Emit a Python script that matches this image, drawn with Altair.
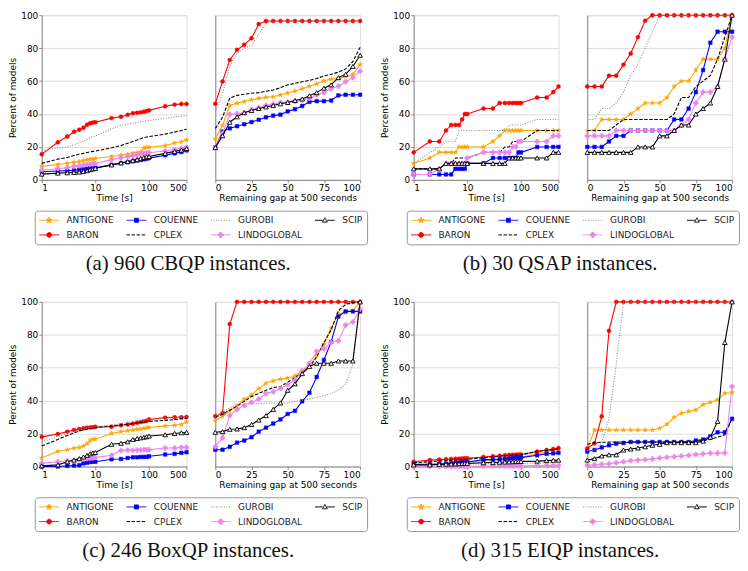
import altair as alt
import pandas as pd

# ---------------- data ----------------
TIME_S = [1, 2, 3, 4, 5, 6, 7, 8, 9, 10, 20, 30, 40, 50, 60, 70, 80, 90, 100, 200, 300, 400, 500]
GAP_PCT = [0, 5, 10, 15, 20, 25, 30, 35, 40, 45, 50, 55, 60, 65, 70, 75, 80, 85, 90, 95, 100]

SOLVERS = ["ANTIGONE", "BARON", "COUENNE", "CPLEX", "GUROBI", "LINDOGLOBAL", "SCIP"]

CAPTIONS = ["(a) 960 CBQP instances.", "(b) 30 QSAP instances.",
            "(c) 246 BoxQP instances.", "(d) 315 EIQP instances."]

CBQP_TIME = {
    "ANTIGONE": [8.2, 9.3, 10.1, 10.7, 11.1, 11.7, 12.3, 12.5, 12.6, 13.0, 14.2, 15.0, 15.6, 16.1, 16.5, 17.0, 19.3, 19.8, 19.8, 20.8, 22.4, 23.1, 24.3],
    "BARON": [15.6, 22.8, 26.3, 29.2, 30.5, 31.7, 33.5, 34.4, 34.8, 35.0, 37.5, 38.3, 39.5, 40.5, 40.7, 41.0, 41.4, 41.8, 42.2, 44.7, 45.7, 46.1, 46.1],
    "COUENNE": [4.9, 5.4, 5.6, 5.8, 6.2, 6.6, 6.8, 7.0, 7.2, 7.4, 9.1, 10.1, 10.7, 11.3, 11.7, 12.1, 12.5, 12.8, 13.2, 15.0, 16.1, 16.9, 17.9],
    "CPLEX": [10.0, 12.6, 13.6, 14.8, 15.6, 16.1, 16.6, 17.0, 17.3, 17.5, 19.5, 20.8, 22.2, 23.3, 24.2, 25.0, 25.7, 26.0, 26.3, 27.8, 29.0, 30.0, 30.7],
    "GUROBI": [18.0, 19.3, 20.0, 21.3, 22.4, 23.6, 24.7, 25.5, 26.2, 26.7, 31.0, 33.0, 33.8, 34.4, 34.8, 35.2, 35.6, 35.8, 36.0, 37.4, 38.2, 38.6, 39.0],
    "LINDOGLOBAL": [5.8, 6.8, 7.4, 8.2, 8.6, 9.0, 9.3, 9.5, 9.7, 9.9, 12.3, 13.4, 14.2, 14.6, 15.2, 15.8, 16.1, 16.3, 16.5, 17.5, 18.5, 19.0, 19.8],
    "SCIP": [3.5, 4.1, 4.3, 4.5, 4.7, 5.1, 5.6, 6.2, 6.6, 7.0, 9.1, 10.3, 11.1, 11.7, 12.3, 13.0, 13.6, 14.0, 14.2, 16.1, 17.3, 18.1, 19.0],
}
CBQP_GAP = {
    "ANTIGONE": [24.9, 33.0, 45.2, 46.6, 47.6, 48.7, 49.5, 50.1, 50.5, 51.5, 52.8, 54.0, 55.3, 56.9, 58.3, 60.2, 61.2, 61.6, 62.7, 64.1, 70.0],
    "BARON": [46.2, 59.8, 72.8, 79.0, 82.0, 86.0, 94.6, 96.5, 96.5, 96.5, 96.5, 96.5, 96.5, 96.5, 96.5, 96.5, 96.5, 96.5, 96.5, 96.5, 96.5],
    "COUENNE": [19.6, 29.3, 31.3, 32.6, 33.8, 35.1, 36.5, 38.0, 39.0, 39.6, 41.6, 42.9, 44.9, 47.4, 47.8, 47.8, 48.2, 51.3, 51.7, 51.7, 51.7],
    "CPLEX": [31.3, 38.0, 49.7, 51.3, 52.0, 52.6, 53.0, 53.8, 54.6, 56.0, 57.7, 58.6, 59.6, 60.4, 61.6, 63.1, 64.1, 65.4, 67.4, 71.8, 80.6],
    "GUROBI": [41.0, 52.4, 69.0, 76.9, 79.8, 81.7, 88.5, 95.3, 96.0, 96.5, 96.5, 96.5, 96.5, 96.5, 96.5, 96.5, 96.5, 96.5, 96.5, 96.5, 96.5],
    "LINDOGLOBAL": [19.6, 28.3, 39.8, 40.2, 40.8, 42.7, 43.7, 45.2, 46.0, 47.0, 47.2, 47.6, 48.5, 49.5, 51.5, 53.0, 55.3, 56.9, 59.6, 62.1, 66.0],
    "SCIP": [19.6, 26.8, 35.0, 38.3, 40.8, 42.1, 43.3, 44.3, 45.2, 46.2, 47.0, 48.2, 49.1, 51.1, 53.0, 55.7, 57.7, 62.1, 64.1, 68.9, 75.7],
}

QSAP_TIME = {
    "ANTIGONE": [10.0, 13.3, 16.7, 16.7, 16.7, 16.7, 20.0, 20.0, 20.0, 20.0, 20.0, 23.3, 26.7, 30.0, 30.0, 30.0, 30.0, 30.0, 30.0, 30.0, 30.0, 30.0, 30.0],
    "BARON": [16.7, 23.3, 23.3, 30.0, 33.3, 33.3, 33.3, 36.7, 40.0, 40.0, 43.3, 43.3, 46.7, 46.7, 46.7, 46.7, 46.7, 46.7, 46.7, 50.0, 50.0, 53.3, 56.7],
    "COUENNE": [3.3, 3.3, 3.3, 3.3, 3.3, 6.7, 6.7, 6.7, 6.7, 10.0, 10.0, 13.3, 13.3, 13.3, 13.3, 13.3, 13.3, 16.7, 16.7, 20.0, 20.0, 20.0, 20.0],
    "CPLEX": [6.7, 6.7, 6.7, 10.0, 10.0, 13.3, 13.3, 13.3, 13.3, 13.3, 16.7, 16.7, 16.7, 20.0, 20.0, 23.3, 23.3, 23.3, 23.3, 30.0, 30.0, 30.0, 30.0],
    "GUROBI": [10.0, 16.7, 20.0, 23.3, 23.3, 23.3, 30.0, 30.0, 30.0, 30.0, 30.0, 30.0, 30.0, 30.0, 33.3, 33.3, 33.3, 33.3, 33.3, 36.7, 36.7, 36.7, 36.7],
    "LINDOGLOBAL": [3.3, 3.3, 6.7, 10.0, 10.0, 10.0, 10.0, 10.0, 10.0, 13.3, 16.7, 16.7, 16.7, 16.7, 16.7, 20.0, 20.0, 23.3, 23.3, 23.3, 23.3, 26.7, 26.7],
    "SCIP": [6.7, 6.7, 6.7, 10.0, 10.0, 10.0, 10.0, 10.0, 10.0, 10.0, 10.0, 10.0, 10.0, 10.0, 13.3, 13.3, 13.3, 13.3, 13.3, 13.3, 13.3, 16.7, 16.7],
}
QSAP_GAP = {
    "ANTIGONE": [30.0, 30.0, 36.7, 36.7, 36.7, 36.7, 40.0, 43.3, 46.7, 46.7, 46.7, 50.0, 56.7, 60.0, 60.0, 66.7, 73.3, 73.3, 73.3, 80.0, 100.0],
    "BARON": [56.7, 56.7, 56.7, 63.3, 63.3, 70.0, 76.7, 86.7, 96.7, 100.0, 100.0, 100.0, 100.0, 100.0, 100.0, 100.0, 100.0, 100.0, 100.0, 100.0, 100.0],
    "COUENNE": [20.0, 20.0, 20.0, 23.3, 26.7, 26.7, 30.0, 30.0, 30.0, 30.0, 30.0, 30.0, 36.7, 36.7, 43.3, 53.3, 66.7, 83.3, 90.0, 90.0, 90.0],
    "CPLEX": [30.0, 30.0, 30.0, 30.0, 33.3, 36.7, 36.7, 36.7, 36.7, 36.7, 36.7, 36.7, 40.0, 50.0, 50.0, 56.7, 60.0, 63.3, 73.3, 86.7, 100.0],
    "GUROBI": [36.7, 36.7, 43.3, 43.3, 46.7, 53.3, 63.3, 70.0, 80.0, 90.0, 100.0, 100.0, 100.0, 100.0, 100.0, 100.0, 100.0, 100.0, 100.0, 100.0, 100.0],
    "LINDOGLOBAL": [26.7, 26.7, 26.7, 26.7, 30.0, 30.0, 30.0, 30.0, 30.0, 30.0, 30.0, 30.0, 30.0, 33.3, 36.7, 46.7, 53.3, 53.3, 56.7, 73.3, 86.7],
    "SCIP": [16.7, 16.7, 16.7, 16.7, 16.7, 16.7, 16.7, 20.0, 20.0, 20.0, 26.7, 26.7, 30.0, 33.3, 33.3, 40.0, 43.3, 46.7, 56.7, 73.3, 100.0],
}

BOXQP_TIME = {
    "ANTIGONE": [5.2, 9.3, 10.2, 11.2, 11.6, 12.5, 13.9, 15.8, 16.6, 16.6, 20.1, 21.2, 21.8, 22.2, 22.6, 22.8, 23.2, 23.4, 23.7, 24.7, 25.1, 25.5, 27.0],
    "BARON": [18.0, 19.7, 21.2, 22.2, 22.8, 23.2, 23.6, 23.7, 23.9, 24.1, 24.2, 25.1, 25.5, 26.0, 26.6, 27.0, 27.4, 27.8, 28.6, 29.7, 29.9, 29.9, 30.1],
    "COUENNE": [0.0, 0.0, 0.4, 0.6, 0.8, 1.9, 2.3, 2.7, 2.9, 2.9, 4.4, 4.6, 5.2, 5.6, 5.6, 5.8, 5.8, 5.8, 6.2, 7.3, 7.7, 8.3, 8.7],
    "CPLEX": [12.5, 16.4, 18.9, 20.4, 21.6, 22.2, 22.7, 23.1, 23.4, 23.6, 24.7, 25.3, 25.7, 26.0, 26.4, 26.7, 27.0, 27.2, 27.4, 28.0, 28.5, 29.0, 29.3],
    "GUROBI": [15.0, 18.3, 20.3, 21.4, 22.2, 22.8, 23.3, 23.7, 23.9, 24.1, 25.1, 26.0, 26.8, 27.4, 27.8, 28.1, 28.4, 28.5, 28.6, 29.3, 29.8, 30.2, 30.5],
    "LINDOGLOBAL": [1.9, 2.9, 3.5, 3.9, 4.2, 4.6, 4.8, 5.0, 5.2, 5.4, 6.8, 9.7, 9.9, 9.9, 10.0, 10.0, 10.2, 10.2, 10.2, 11.2, 11.2, 11.6, 11.6],
    "SCIP": [0.4, 1.0, 2.9, 3.9, 4.8, 5.8, 6.8, 7.7, 8.3, 8.5, 13.5, 14.1, 15.0, 16.4, 17.0, 17.4, 17.8, 18.1, 18.5, 19.3, 20.1, 20.5, 20.7],
}
BOXQP_GAP = {
    "ANTIGONE": [28.0, 30.5, 33.8, 37.0, 40.9, 43.4, 47.3, 50.6, 52.1, 53.1, 53.7, 55.0, 58.3, 60.8, 67.6, 74.3, 84.0, 92.7, 93.6, 94.6, 100.0],
    "BARON": [30.5, 32.4, 86.5, 100.0, 100.0, 100.0, 100.0, 100.0, 100.0, 100.0, 100.0, 100.0, 100.0, 100.0, 100.0, 100.0, 100.0, 100.0, 100.0, 100.0, 100.0],
    "COUENNE": [10.2, 10.2, 12.0, 14.5, 15.8, 17.8, 21.2, 23.6, 26.1, 28.6, 31.9, 33.8, 39.6, 44.8, 54.4, 64.7, 75.7, 91.1, 94.2, 94.2, 94.2],
    "CPLEX": [29.9, 31.9, 34.2, 36.7, 39.6, 42.5, 44.4, 46.3, 47.9, 48.6, 51.2, 54.0, 57.0, 60.2, 66.6, 75.3, 83.0, 94.6, 98.5, 99.4, 100.0],
    "GUROBI": [29.9, 32.8, 35.7, 37.0, 37.8, 38.2, 38.2, 38.6, 38.6, 38.6, 38.6, 39.6, 40.2, 40.9, 42.1, 42.9, 44.4, 46.3, 50.2, 61.8, 100.0],
    "LINDOGLOBAL": [12.0, 17.4, 30.9, 34.7, 37.0, 39.0, 40.9, 44.4, 45.4, 47.3, 49.8, 52.5, 57.9, 62.7, 69.9, 71.4, 75.3, 76.3, 85.9, 87.8, 95.6],
    "SCIP": [20.8, 21.2, 22.6, 22.8, 23.6, 25.5, 28.2, 30.9, 34.7, 38.6, 46.3, 50.2, 56.4, 60.8, 62.7, 62.7, 62.7, 64.1, 64.1, 64.1, 100.0],
}

EIQP_TIME = {
    "ANTIGONE": [1.0, 1.4, 1.7, 2.0, 2.3, 2.5, 2.6, 2.8, 2.9, 2.9, 3.5, 3.9, 4.3, 4.6, 4.9, 5.1, 5.3, 5.5, 5.7, 7.6, 8.9, 9.7, 10.3],
    "BARON": [2.9, 3.9, 4.2, 4.4, 4.6, 4.7, 4.8, 4.9, 5.0, 5.0, 5.8, 6.2, 6.5, 6.8, 7.0, 7.1, 7.2, 7.3, 7.3, 9.1, 10.0, 10.6, 11.2],
    "COUENNE": [1.4, 1.4, 1.5, 1.7, 1.9, 2.1, 2.3, 2.5, 2.6, 2.7, 4.2, 4.2, 4.4, 4.6, 4.8, 5.0, 5.1, 5.3, 5.4, 6.8, 7.7, 8.0, 8.3],
    "CPLEX": [2.3, 2.9, 3.3, 3.6, 3.8, 4.0, 4.1, 4.2, 4.3, 4.4, 5.3, 5.8, 6.2, 6.5, 6.7, 6.8, 6.9, 7.0, 7.1, 9.1, 9.8, 10.2, 10.6],
    "GUROBI": [0.8, 0.9, 1.0, 1.1, 1.2, 1.3, 1.3, 1.4, 1.4, 1.4, 1.6, 1.7, 1.7, 1.8, 1.8, 1.8, 1.9, 1.9, 1.9, 2.1, 2.2, 2.3, 2.3],
    "LINDOGLOBAL": [0.0, 0.0, 0.0, 0.0, 0.0, 0.0, 0.0, 0.0, 0.0, 0.0, 0.3, 0.3, 0.3, 0.3, 0.3, 0.3, 0.3, 0.3, 0.3, 0.6, 0.6, 0.6, 0.6],
    "SCIP": [1.0, 1.0, 1.3, 1.4, 1.5, 1.6, 1.7, 1.8, 1.9, 1.9, 2.3, 2.5, 2.6, 2.7, 2.8, 2.9, 3.0, 3.0, 3.1, 3.3, 3.6, 3.8, 3.9],
}
EIQP_GAP = {
    "ANTIGONE": [10.6, 22.2, 22.2, 22.2, 22.2, 22.2, 22.2, 22.2, 22.2, 22.2, 23.2, 25.7, 29.9, 32.4, 33.4, 34.4, 37.6, 39.0, 40.5, 44.4, 45.0],
    "BARON": [11.0, 14.1, 30.5, 82.4, 100.0, 100.0, 100.0, 100.0, 100.0, 100.0, 100.0, 100.0, 100.0, 100.0, 100.0, 100.0, 100.0, 100.0, 100.0, 100.0, 100.0],
    "COUENNE": [9.1, 10.0, 11.6, 12.9, 13.9, 14.3, 14.9, 14.9, 14.9, 14.9, 14.9, 14.9, 14.9, 14.9, 14.9, 15.8, 16.4, 18.3, 20.8, 20.8, 29.0],
    "CPLEX": [13.5, 14.5, 14.7, 14.8, 14.9, 14.9, 14.9, 14.9, 14.9, 14.9, 14.9, 14.9, 14.9, 15.0, 15.1, 15.3, 15.8, 16.4, 17.8, 19.3, 29.0],
    "GUROBI": [9.7, 9.7, 14.5, 29.0, 61.8, 100.0, 100.0, 100.0, 100.0, 100.0, 100.0, 100.0, 100.0, 100.0, 100.0, 100.0, 100.0, 100.0, 100.0, 100.0, 100.0],
    "LINDOGLOBAL": [0.8, 1.0, 1.4, 1.7, 2.3, 2.9, 3.5, 3.9, 4.2, 4.6, 5.2, 5.6, 6.0, 6.4, 6.8, 7.3, 7.7, 8.1, 8.1, 8.3, 48.6],
    "SCIP": [3.9, 4.8, 6.4, 7.1, 7.1, 10.0, 10.6, 11.2, 12.0, 12.9, 13.5, 14.5, 14.5, 14.5, 14.5, 14.5, 15.4, 17.8, 27.4, 75.3, 100.0],
}

GROUPS = [(CBQP_TIME, CBQP_GAP), (QSAP_TIME, QSAP_GAP),
          (BOXQP_TIME, BOXQP_GAP), (EIQP_TIME, EIQP_GAP)]

# ---------------- style ----------------
COLORS = {"ANTIGONE": "#ffa500", "BARON": "#ff0000", "COUENNE": "#0000ff",
          "CPLEX": "#000000", "GUROBI": "#8c8c8c", "LINDOGLOBAL": "#ee82ee",
          "SCIP": "#000000"}
DASHES = {"CPLEX": [3.5, 1.6], "GUROBI": [1, 1.6]}


def poly(pts, s=1.0, dx=0.0):
    return "M" + " L".join(f"{x * s + dx:.3f},{y * s:.3f}" for x, y in pts) + " Z"


STAR_PTS = [(0, -1), (0.235, -0.324), (0.951, -0.309), (0.380, 0.124), (0.588, 0.809),
            (0, 0.4), (-0.588, 0.809), (-0.380, 0.124), (-0.951, -0.309), (-0.235, -0.324)]
PLUS_PTS = [(-0.33, -1), (0.33, -1), (0.33, -0.33), (1, -0.33), (1, 0.33), (0.33, 0.33),
            (0.33, 1), (-0.33, 1), (-0.33, 0.33), (-1, 0.33), (-1, -0.33), (-0.33, -0.33)]
TRI_PTS = [(0, -1), (0.95, 0.75), (-0.95, 0.75)]
SQ_PTS = [(-1, -1), (1, -1), (1, 1), (-1, 1)]

# legend glyphs: symbol size 100 -> 1 unit = 5 px; a 20 px line from -1 to 3 units,
# with the marker centred at +1 unit
LEG_SIZE = 100
mr = 0.48
LINE = "M-1,0 L3,0 "
CIRCLE = f"M{1 - mr},0 A{mr},{mr} 0 1,0 {1 + mr},0 A{mr},{mr} 0 1,0 {1 - mr},0 Z"
LEG_SHAPES = {
    "ANTIGONE": LINE + poly(STAR_PTS, 0.62, 1),
    "BARON": LINE + CIRCLE,
    "COUENNE": LINE + poly(SQ_PTS, 0.4, 1),
    "CPLEX": LINE,
    "GUROBI": LINE,
    "LINDOGLOBAL": LINE + poly(PLUS_PTS, 0.52, 1),
    "SCIP": "M-1,0 L0.55,0 M1.45,0 L3,0 " + poly(TRI_PTS, 0.5, 1),
}
LEG_FILL = dict(COLORS, SCIP="#ffffff")
MARK_SHAPE = {"ANTIGONE": poly(STAR_PTS), "BARON": "circle", "COUENNE": "square",
              "LINDOGLOBAL": "cross", "SCIP": "triangle-up"}
MARK_SIZE = {"ANTIGONE": 24, "BARON": 16, "COUENNE": 13, "LINDOGLOBAL": 22, "SCIP": 22}

LEGEND_ORDER = SOLVERS

W, H = 146, 166
FONT = "DejaVu Sans"
AX = dict(tickSize=3, labelPadding=1, titlePadding=1, titleFontWeight="normal",
          labelFont=FONT, labelFontSize=9, titleFont=FONT, titleFontSize=9)


def long_df(series, xs):
    rows = []
    for s in SOLVERS:
        for x, y in zip(xs, series[s]):
            rows.append({"solver": s, "x": x, "y": y})
    return pd.DataFrame(rows)


def panel(series, kind, with_legend):
    if kind == "time":
        xs = TIME_S
        xenc = alt.X("x:Q", scale=alt.Scale(type="log", domain=[1, 500], nice=False),
                     axis=alt.Axis(values=[1, 10, 100, 500], format="d", title="Time [s]", grid=False, **AX))
        yaxis = alt.Axis(values=[0, 20, 40, 60, 80, 100], title="Percent of models", grid=True,
                         **dict(AX, titlePadding=3))
    else:
        xs = GAP_PCT
        xenc = alt.X("x:Q", scale=alt.Scale(domain=[0, 100], nice=False),
                     axis=alt.Axis(values=[0, 25, 50, 75, 100], title="Remaining gap at 500 seconds",
                                   grid=False, **AX))
        yaxis = alt.Axis(values=[0, 20, 40, 60, 80, 100], labels=False, ticks=False, title=None,
                         grid=True)
    yenc = alt.Y("y:Q", scale=alt.Scale(domain=[0, 100], nice=False, zero=False), axis=yaxis)
    df = long_df(series, xs)
    layers = []
    for s in SOLVERS:
        base = alt.Chart(df[df.solver == s]).encode(x=xenc, y=yenc)
        lk = dict(color=COLORS[s], strokeWidth=1.1)
        if s in DASHES:
            lk["strokeDash"] = DASHES[s]
        layers.append(base.mark_line(**lk))
        if s in MARK_SHAPE:
            if s == "SCIP":
                pk = dict(fill="#ffffff", stroke="#000000", strokeWidth=0.9, filled=True)
            else:
                pk = dict(fill=COLORS[s], stroke=COLORS[s], strokeWidth=0.5, filled=True)
            layers.append(base.mark_point(shape=MARK_SHAPE[s], size=MARK_SIZE[s], opacity=1, **pk))
    if with_legend:
        leg = alt.Legend(title=None, orient="none", legendX=-7, legendY=H + 31, columns=4,
                         labelFont=FONT, labelFontSize=9, labelColor="#222222",
                         padding=4, strokeColor="#9a9a9a", cornerRadius=3, fillColor="#ffffff",
                         columnPadding=10, rowPadding=4, symbolStrokeWidth=1,
                         labelOffset=17, symbolSize=LEG_SIZE, labelLimit=200)
        ldf = pd.DataFrame({"solver": SOLVERS})
        layers.append(
            alt.Chart(ldf).mark_point(size=LEG_SIZE, clip=True, opacity=1, filled=True).encode(
                x=alt.value(-300), y=alt.value(-300),
                fill=alt.Fill("solver:N", legend=leg,
                              scale=alt.Scale(domain=LEGEND_ORDER, range=[LEG_FILL[s] for s in LEGEND_ORDER])),
                stroke=alt.Stroke("solver:N", legend=leg,
                                  scale=alt.Scale(domain=LEGEND_ORDER, range=[COLORS[s] for s in LEGEND_ORDER])),
                shape=alt.Shape("solver:N", legend=leg,
                                scale=alt.Scale(domain=LEGEND_ORDER, range=[LEG_SHAPES[s] for s in LEGEND_ORDER])),
                strokeDash=alt.StrokeDash("solver:N", legend=leg,
                                          scale=alt.Scale(domain=LEGEND_ORDER,
                                                          range=[DASHES.get(s, [1, 0]) for s in LEGEND_ORDER])),
            )
        )
    return alt.layer(*layers).properties(width=W, height=H)


INDEP = dict(x="independent", y="independent", fill="independent", stroke="independent",
             shape="independent", strokeDash="independent")


def group(i):
    t, g = GROUPS[i]
    left = panel(t, "time", True)
    right = panel(g, "gap", False)
    return alt.hconcat(left, right, spacing=29, bounds="flush").resolve_scale(**INDEP).properties(
        title=alt.TitleParams(CAPTIONS[i], orient="bottom", anchor="middle", font="Liberation Serif",
                              fontSize=21, fontWeight="normal", color="#111111", offset=8)
    )


top = alt.hconcat(group(0), group(1), spacing=12).resolve_scale(**INDEP)
bottom = alt.hconcat(group(2), group(3), spacing=12).resolve_scale(**INDEP)

chart = alt.vconcat(top, bottom, spacing=23).resolve_scale(**INDEP).properties(
    padding={"left": 0, "top": 0, "right": 0, "bottom": 0}
).configure_view(
    stroke="#555555", strokeWidth=1.3
).configure_axis(
    labelFont=FONT, labelFontSize=9, labelColor="#262626",
    titleFont=FONT, titleFontSize=9, titleFontWeight="normal", titleColor="#262626",
    domain=False, tickColor="#444444", tickSize=3, labelPadding=1, titlePadding=1,
    gridColor="#bdbdbd", gridWidth=1,
).configure(background="#ffffff")

chart.save("out.html", embed_options={"renderer": "svg", "actions": False})
